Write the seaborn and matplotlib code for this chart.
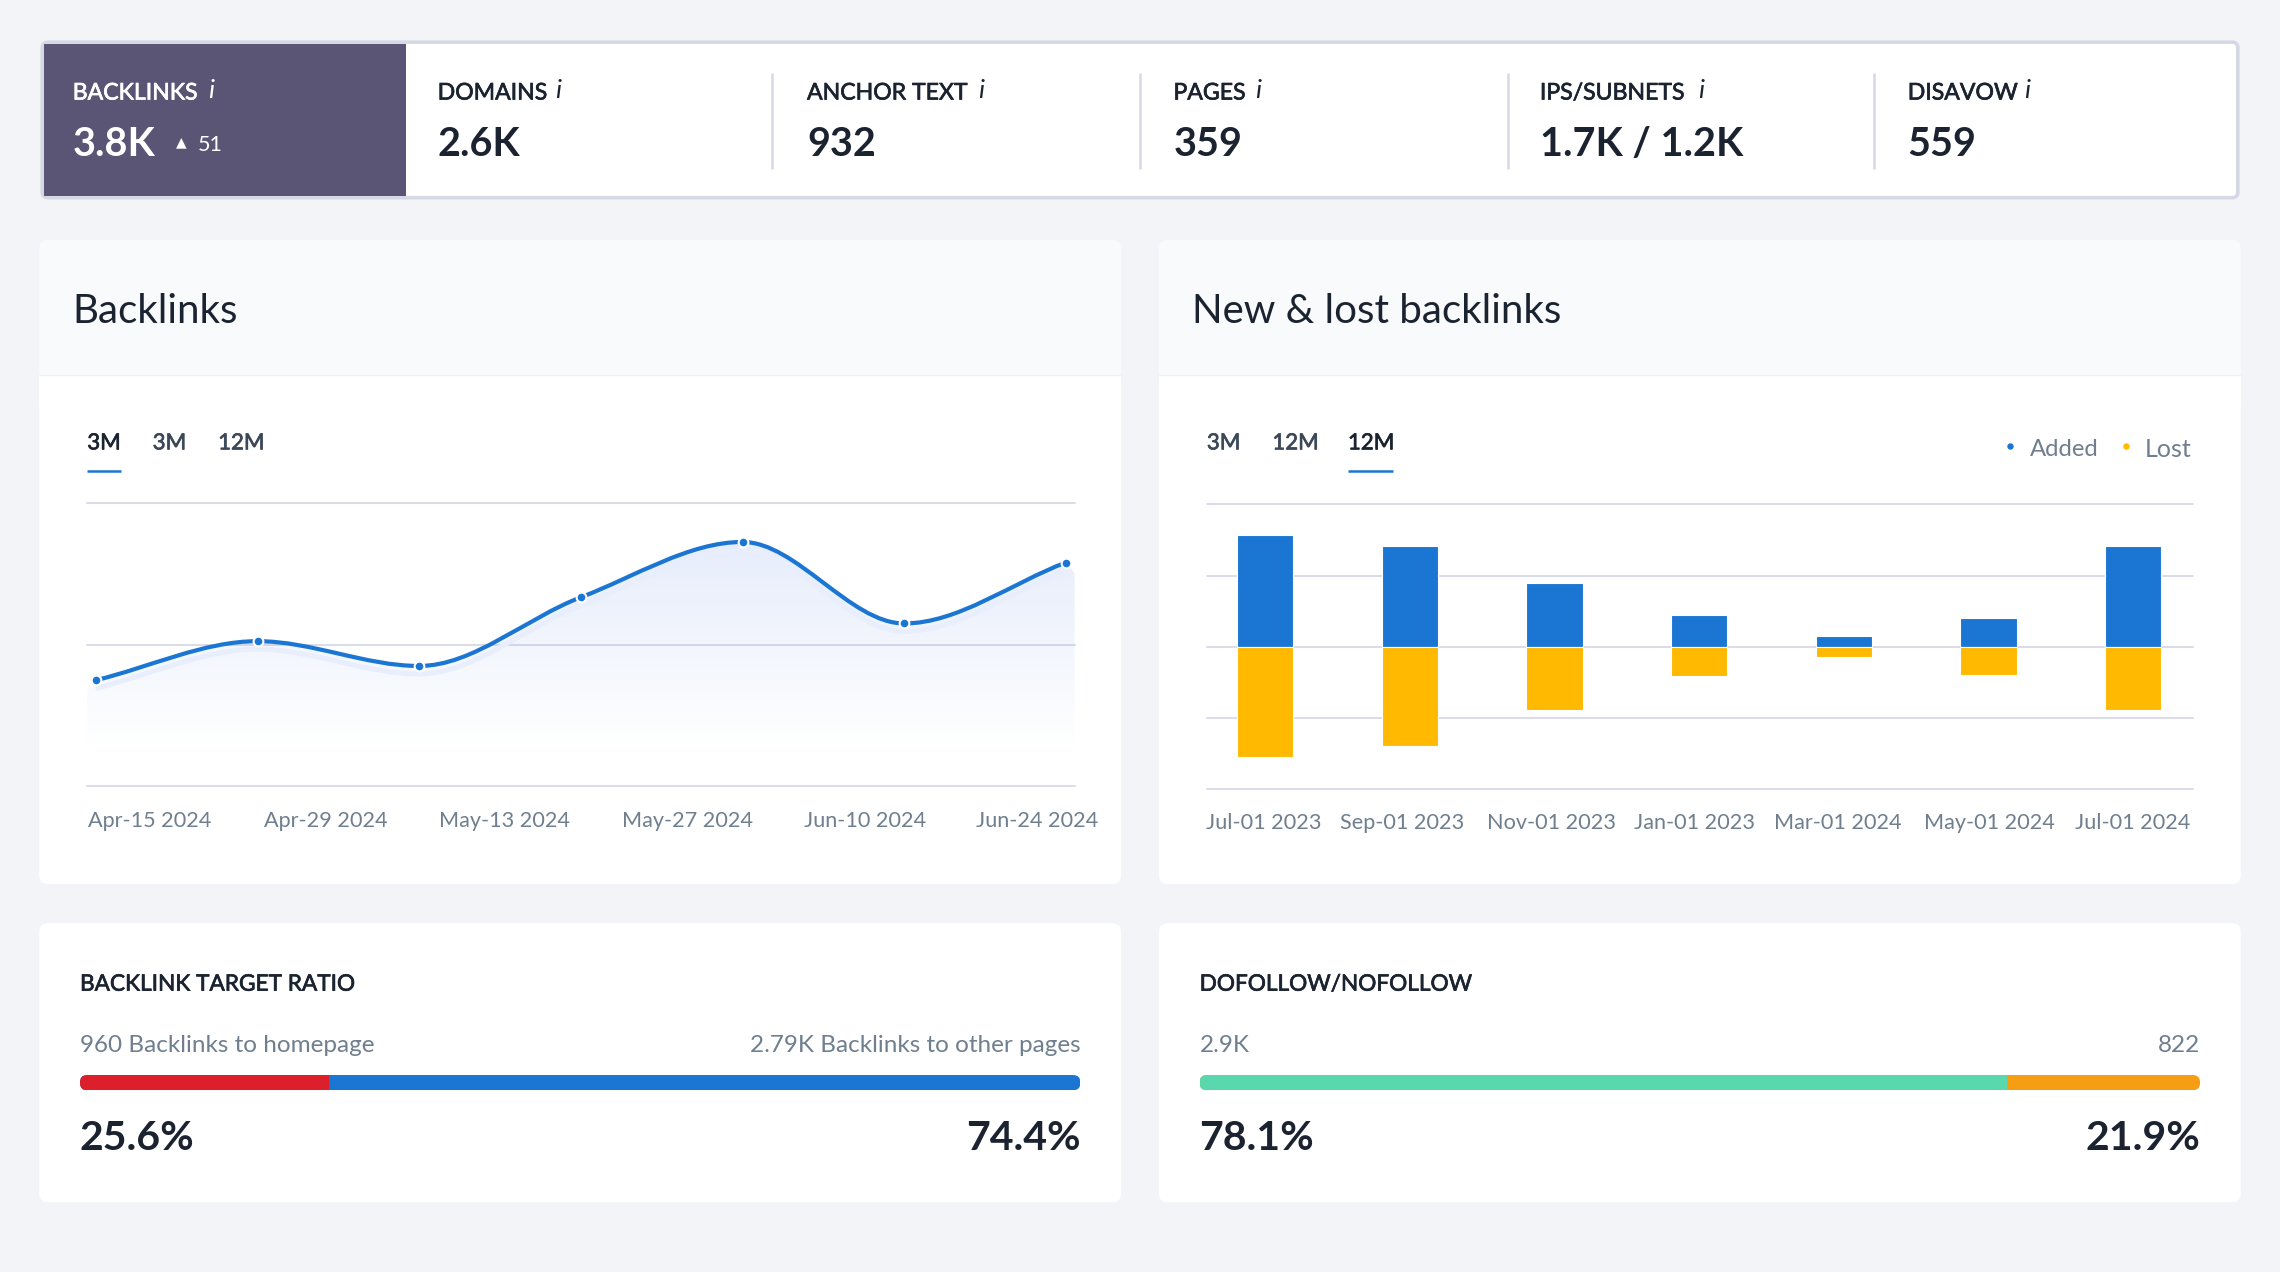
from matplotlib import pyplot as plt
from matplotlib import patheffects as pe
from matplotlib.patches import FancyBboxPatch, PathPatch, Rectangle
from matplotlib.path import Path
from matplotlib.transforms import Affine2D
import seaborn as sns
import numpy as np
import pandas as pd

# stat strip
stat_names = ['BACKLINKS', 'DOMAINS', 'ANCHOR TEXT', 'PAGES', 'IPS/SUBNETS', 'DISAVOW']
stat_values = ['3.8K', '2.6K', '932', '359', '1.7K / 1.2K', '559']

# backlinks line
line_values = [1500, 2050, 1700, 2670, 3450, 2300, 3160]
line_ticks = ['Apr-15 2024', 'Apr-29 2024', 'May-13 2024', 'May-27 2024', 'Jun-10 2024', 'Jun-24 2024']

# new & lost bars
bar_months = ['Jul-01 2023', 'Sep-01 2023', 'Nov-01 2023', 'Jan-01 2023', 'Mar-01 2024', 'May-01 2024', 'Jul-01 2024']
added = [157, 141, 90, 45, 16, 41, 141]
lost = [-155, -139, -88, -41, -14, -39, -88]

# ratio bars, shares as drawn in the picture
target_shares = [24.9, 75.1]
follow_shares = [80.7, 19.3]

W, H = 1568, 875  # layout units of the picture
BG = '#f2f4f8'
GRID = '#d9dde9'
INK = '#1b2330'
GREY = '#6f7f8f'
BLUE = '#1a76d2'
AMBER = '#ffb900'

sns.set_style('white')
plt.rcParams['font.family'] = ['Lato', 'DejaVu Sans']


def place(fig, x0, y0, x1, y1):
    ax = fig.add_axes([x0 / W, 1 - y1 / H, (x1 - x0) / W, (y1 - y0) / H])
    ax.patch.set_alpha(0)
    return ax


def card(ax, x0, y0, x1, y1, color='white'):
    p = FancyBboxPatch((x0, y0), x1 - x0, y1 - y0, boxstyle='round,pad=0,rounding_size=6',
                       fc=color, ec='none')
    ax.add_patch(p)


def heavier(text, c):
    # Lato medium is not installed, a hairline stroke stands in for it
    text.set_path_effects([pe.withStroke(linewidth=0.5, foreground=c)])


def curve(xs, ys):
    # monotone cubic through the points, as bezier segments
    xs, ys = np.array(xs, float), np.array(ys, float)
    s = np.diff(ys) / np.diff(xs)
    m = np.zeros(len(xs))
    for i in range(1, len(xs) - 1):
        if s[i - 1] * s[i] > 0:
            m[i] = 2 * s[i - 1] * s[i] / (s[i - 1] + s[i])
    m[0], m[-1] = s[0], s[-1]
    verts = [(xs[0], ys[0])]
    codes = [Path.MOVETO]
    for i in range(len(xs) - 1):
        h = (xs[i + 1] - xs[i]) / 3
        verts += [(xs[i] + h, ys[i] + m[i] * h), (xs[i + 1] - h, ys[i + 1] - m[i + 1] * h),
                  (xs[i + 1], ys[i + 1])]
        codes += [Path.CURVE4] * 3
    return verts, codes


def style_chart(ax, yticks):
    sns.despine(ax=ax, left=True, bottom=True)
    ax.set_yticks(yticks)
    ax.set_yticklabels([])
    ax.set_xlabel('')
    ax.set_ylabel('')
    ax.grid(axis='y', color=GRID, lw=1.4)
    ax.grid(axis='x', visible=False)
    ax.set_axisbelow(True)
    ax.tick_params(length=0)
    for g in ax.get_ygridlines():
        g.set_clip_on(False)


def plot_line(fig):
    ax = place(fig, 60, 346, 739, 541)
    x = np.arange(len(line_values))
    xlim = (-6 / 111, 6 + 6 / 111)
    verts, codes = curve(x, line_values)

    # area under the line with a fading fill
    area = Path(verts + [(xlim[1], line_values[-1] - 150), (xlim[1], 0), (xlim[0], 0),
                         (xlim[0], line_values[0] - 150), verts[0]],
                codes + [Path.LINETO] * 5)
    clip = PathPatch(area, transform=ax.transData, fc='none', ec='none')
    ax.add_patch(clip)
    fade = np.zeros((128, 2, 4))
    fade[..., :3] = [0.36, 0.52, 0.90]
    fade[..., 3] = np.linspace(0.16, 0, 128)[:, None]
    img = ax.imshow(fade, extent=(xlim[0], xlim[1], 500, 3600), origin='upper', aspect='auto', zorder=1)
    img.set_clip_path(clip)

    # pale band under the stroke
    ax.add_patch(PathPatch(Path(verts, codes), fc='none', ec='#e8eefb', lw=3.6, zorder=2,
                           transform=ax.transData + Affine2D().translate(0, -8)))
    ax.add_patch(PathPatch(Path(verts, codes), fc='none', ec=BLUE, lw=3.0, zorder=3,
                           capstyle='round'))
    sns.lineplot(x=x, y=line_values, ax=ax, linestyle='', marker='o', markersize=7, color=BLUE,
                 markeredgecolor='white', markeredgewidth=1.5, zorder=4, clip_on=False)

    ax.set_xlim(*xlim)
    ax.set_ylim(0, 4000)
    style_chart(ax, [0, 2000, 4000])
    ax.set_xticks([0.333, 1.42, 2.53, 3.66, 4.76, 5.82])
    ax.set_xticklabels(line_ticks, fontsize=15.6, color=GREY)
    ax.tick_params(axis='x', pad=18)


def plot_bars(fig):
    ax = place(fig, 830, 347, 1508, 543)
    df = pd.DataFrame({
        'month': bar_months * 2,
        'value': added + lost,
        'series': ['Added'] * len(added) + ['Lost'] * len(lost),
    })
    sns.barplot(data=df, x='month', y='value', hue='series', ax=ax, dodge=False, width=0.39,
                palette={'Added': BLUE, 'Lost': AMBER}, legend=False, edgecolor='white', linewidth=0.8,
                zorder=3, saturation=1)
    ax.set_xlim(-0.402, 6.412)
    ax.set_ylim(-200, 200)
    style_chart(ax, [-200, -100, 0, 100, 200])
    ax.set_xticks([-0.01, 0.95, 1.98, 2.97, 3.96, 5.01, 6.0])
    ax.set_xticklabels(bar_months, fontsize=15.6, color=GREY)
    ax.tick_params(axis='x', pad=17)


def plot_ratio(fig, base, x0, x1, shares, colors):
    ax = place(fig, x0, 739.5, x1, 750)
    sns.barplot(x=[100], y=['all'], orient='h', color=colors[1], ax=ax, width=1, saturation=1, linewidth=0)
    sns.barplot(x=[shares[0]], y=['all'], orient='h', color=colors[0], ax=ax, width=1, saturation=1, linewidth=0)
    ax.set_xlim(0, 100)
    ax.set_ylim(0.5, -0.5)
    ax.axis('off')
    shape = FancyBboxPatch((x0, 739.5), x1 - x0, 10.5, boxstyle='round,pad=0,rounding_size=5',
                           transform=base.transData)
    for b in ax.patches:
        b.set_clip_path(shape)


def plot_page(base):
    base.set_xlim(0, W)
    base.set_ylim(H, 0)
    base.axis('off')

    # stat strip
    base.add_patch(FancyBboxPatch((29, 29), 1510, 107, boxstyle='round,pad=0,rounding_size=4',
                                  fc='white', ec='#d6d9e5', lw=2.6))
    base.add_patch(Rectangle((30, 30), 249, 105, fc='#5a5475', ec='none'))
    label_x = [50, 301, 555, 807, 1059, 1312]
    info_x = [145, 384, 675, 865, 1170, 1394]
    for i, name in enumerate(stat_names):
        c = 'white' if i == 0 else INK
        heavier(base.text(label_x[i], 64, name, fontsize=16.6, color=c, va='center'), c)
        base.text(info_x[i], 62.5, 'i', fontsize=19, color=c, va='center', ha='center', style='italic')
        base.text(label_x[i], 99.5, stat_values[i], fontsize=28.5, color=c, va='center',
                  weight='bold')
    for x in [531, 784, 1037, 1289]:
        base.plot([x, x], [50, 116], color='#d6d9e5', lw=1.8, solid_capstyle='butt')
    base.text(125, 98, '▲', fontsize=10, color='white', va='center', ha='center', family='DejaVu Sans')
    base.text(136, 100, '51', fontsize=15.5, color='white', va='center')

    # chart cards
    for x0, x1, title in [(27, 771, 'Backlinks'), (797, 1541, 'New & lost backlinks')]:
        card(base, x0, 165, x1, 608, '#f9fafc')
        base.add_patch(FancyBboxPatch((x0, 258), x1 - x0, 350, boxstyle='round,pad=0,rounding_size=6',
                                      fc='white', ec='none'))
        base.add_patch(Rectangle((x0, 258), x1 - x0, 20, fc='white', ec='none'))
        base.plot([x0, x1], [258, 258], color='#eff1f5', lw=1)
        base.text(x0 + 22.5, 214.5, title, fontsize=29, color=INK, va='center')

    # range tabs
    for x, t, c in [(60, '3M', INK), (105, '3M', '#3c4858'), (150, '12M', '#3c4858'),
                    (830, '3M', '#3c4858'), (875, '12M', '#3c4858'), (927, '12M', INK)]:
        heavier(base.text(x, 305, t, fontsize=16, color=c, va='center'), c)
    for x0, x1 in [(60, 83), (927, 958)]:
        base.plot([x0, x1], [324, 324], color=BLUE, lw=1.8, solid_capstyle='butt')

    # legend
    base.plot([1382], [307], 'o', ms=3.6, color=BLUE)
    base.text(1396, 309.5, 'Added', fontsize=17.2, color=GREY, va='center')
    base.plot([1462], [307], 'o', ms=3.6, color=AMBER)
    base.text(1475, 309.5, 'Lost', fontsize=18, color=GREY, va='center')

    # ratio cards
    rows = [(27, 771, 'BACKLINK TARGET RATIO', '960 Backlinks to homepage', '2.79K Backlinks to other pages', '25.6%', '74.4%'),
            (797, 1541, 'DOFOLLOW/NOFOLLOW', '2.9K', '822', '78.1%', '21.9%')]
    for x0, x1, title, left, right, pct_l, pct_r in rows:
        card(base, x0, 635, x1, 827)
        heavier(base.text(x0 + 28, 677, title, fontsize=16.3, color=INK, va='center'), INK)
        base.text(x0 + 28, 719.5, left, fontsize=17.5, color=GREY, va='center')
        base.text(x1 - 28, 719.5, right, fontsize=17.5, color=GREY, va='center', ha='right')
        base.text(x0 + 28, 783.5, pct_l, fontsize=29.5, color=INK, va='center', weight='bold')
        base.text(x1 - 28, 783.5, pct_r, fontsize=29.5, color=INK, va='center', ha='right', weight='bold')


def plot():
    fig = plt.figure(figsize=(22.8, 12.72), dpi=100, facecolor=BG)
    base = fig.add_axes([0, 0, 1, 1])
    plot_page(base)
    plot_line(fig)
    plot_bars(fig)
    plot_ratio(fig, base, 55, 743, target_shares, ['#dc1f2a', BLUE])
    plot_ratio(fig, base, 825, 1513, follow_shares, ['#59d8ae', '#f59e14'])
    fig.savefig('out.png', facecolor=BG)


if __name__ == "__main__":
    plot()
